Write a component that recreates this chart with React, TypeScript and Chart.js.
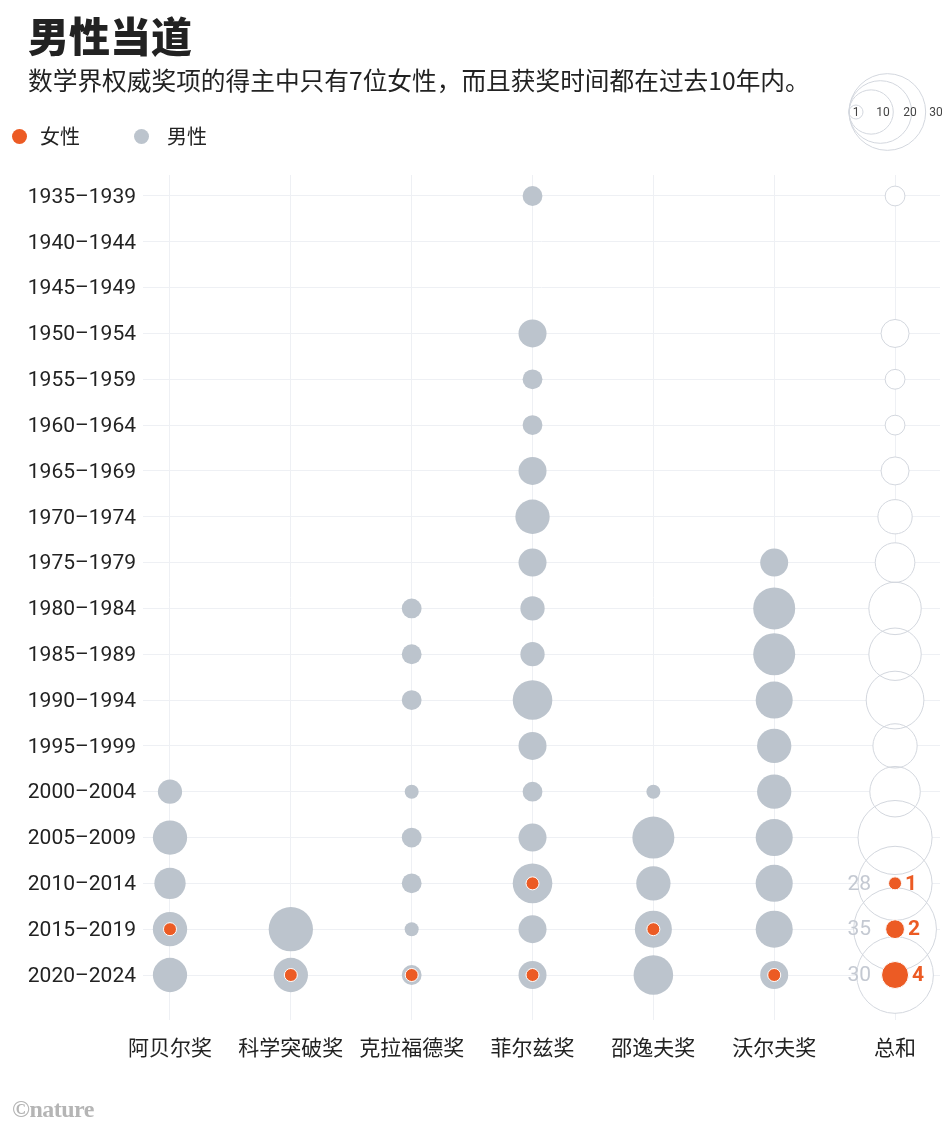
import React, { useEffect, useRef } from "react";
import { Chart, registerables } from "chart.js";

Chart.register(...registerables);

// ---------- data ----------
const periods = [
  "1935–1939", "1940–1944", "1945–1949", "1950–1954", "1955–1959", "1960–1964",
  "1965–1969", "1970–1974", "1975–1979", "1980–1984", "1985–1989", "1990–1994",
  "1995–1999", "2000–2004", "2005–2009", "2010–2014", "2015–2019", "2020–2024",
];
const prizes = ["阿贝尔奖", "科学突破奖", "克拉福德奖", "菲尔兹奖", "邵逸夫奖", "沃尔夫奖"];
const totalColumnLabel = "总和";

// all laureates per period
const abel =         [0, 0, 0, 0, 0, 0, 0, 0, 0, 0, 0, 0, 0, 3, 6, 5, 6, 6];
const breakthrough = [0, 0, 0, 0, 0, 0, 0, 0, 0, 0, 0, 0, 0, 0, 0, 0, 10, 6];
const crafoord =     [0, 0, 0, 0, 0, 0, 0, 0, 0, 2, 2, 2, 0, 1, 2, 2, 1, 2];
const fields =       [2, 0, 0, 4, 2, 2, 4, 6, 4, 3, 3, 8, 4, 2, 4, 8, 4, 4];
const shaw =         [0, 0, 0, 0, 0, 0, 0, 0, 0, 0, 0, 0, 0, 1, 9, 6, 7, 8];
const wolf =         [0, 0, 0, 0, 0, 0, 0, 0, 4, 9, 9, 7, 6, 6, 7, 7, 7, 4];

// female laureates per period
const abelF =         [0, 0, 0, 0, 0, 0, 0, 0, 0, 0, 0, 0, 0, 0, 0, 0, 1, 0];
const breakthroughF = [0, 0, 0, 0, 0, 0, 0, 0, 0, 0, 0, 0, 0, 0, 0, 0, 0, 1];
const crafoordF =     [0, 0, 0, 0, 0, 0, 0, 0, 0, 0, 0, 0, 0, 0, 0, 0, 0, 1];
const fieldsF =       [0, 0, 0, 0, 0, 0, 0, 0, 0, 0, 0, 0, 0, 0, 0, 1, 0, 1];
const shawF =         [0, 0, 0, 0, 0, 0, 0, 0, 0, 0, 0, 0, 0, 0, 0, 0, 1, 0];
const wolfF =         [0, 0, 0, 0, 0, 0, 0, 0, 0, 0, 0, 0, 0, 0, 0, 0, 0, 1];

const sizeLegendValues = [1, 10, 20, 30];

// ---------- styling ----------
const ORANGE = "#ec5b24";
const GRAY = "#bcc4cd";
const GRID = "#eef0f4";
const RING = "#d3d7de";
const K = 7;
const rad = (v: number) => (v > 0 ? K * Math.sqrt(v) : 0);

const PAGE_W = 934;
const RIGHT_PAD = 44; // room the bubble controller insists on
const AREA = { left: 135, right: 932, top: 167, bottom: 1012 };
const CANVAS_W = AREA.right + RIGHT_PAD;
const CANVAS_H = 1114;
const NUM_FONT = "Roboto, 'Noto Sans CJK SC', sans-serif";
const CJK_FONT = "'Noto Sans CJK SC', sans-serif";

const allSeries = [abel, breakthrough, crafoord, fields, shaw, wolf];
const femaleSeries = [abelF, breakthroughF, crafoordF, fieldsF, shawF, wolfF];
const columns = [...prizes, totalColumnLabel];
const totals = periods.map((_, r) => allSeries.reduce((s, a) => s + a[r], 0));
const totalsF = periods.map((_, r) => femaleSeries.reduce((s, a) => s + a[r], 0));

export default function App() {
  const ref = useRef<HTMLCanvasElement | null>(null);

  useEffect(() => {
    if (!ref.current) return;
    const grayPts: any[] = [];
    allSeries.forEach((arr, c) =>
      arr.forEach((v, r) => {
        if (v > 0) grayPts.push({ x: c, y: r, r: rad(v) });
      })
    );
    const femalePts: any[] = [];
    femaleSeries.forEach((arr, c) =>
      arr.forEach((v, r) => {
        if (v > 0) femalePts.push({ x: c, y: r, r: rad(v) - 0.5 });
      })
    );
    totalsF.forEach((v, r) => {
      if (v > 0) femalePts.push({ x: 6, y: r, r: rad(v) - 0.5 });
    });
    const totalPts: any[] = [];
    totals.forEach((v, r) => {
      if (v > 0) totalPts.push({ x: 6, y: r, r: rad(v) });
    });

    const xMin = -0.2234;
    const xMax = 6.372;

    const labelsPlugin = {
      id: "totalLabels",
      afterDatasetsDraw(chart: any) {
        const ctx = chart.ctx;
        const xs = chart.scales.x;
        const ys = chart.scales.y;
        ctx.save();
        totalsF.forEach((f, r) => {
          if (f <= 0) return;
          const x0 = xs.getPixelForValue(6);
          const y0 = ys.getPixelForValue(r);
          ctx.textBaseline = "middle";
          ctx.font = `400 21px ${NUM_FONT}`;
          ctx.fillStyle = "#c4c9d2";
          ctx.textAlign = "right";
          ctx.fillText(String(totals[r]), x0 - 24, y0 + 1);
          ctx.font = `700 21px ${NUM_FONT}`;
          ctx.fillStyle = ORANGE;
          ctx.textAlign = "left";
          ctx.fillText(String(f), x0 + rad(f) + 3, y0 + 1);
        });
        ctx.restore();
      },
      afterDraw(chart: any) {
        const ctx = chart.ctx;
        ctx.save();
        const lx = 841;
        const ly = 104;
        ctx.strokeStyle = RING;
        ctx.lineWidth = 1;
        [...sizeLegendValues].reverse().forEach((v) => {
          const r = rad(v);
          ctx.beginPath();
          ctx.arc(lx + r, ly, r, 0, Math.PI * 2);
          ctx.stroke();
        });
        const labelX = [848, 875, 902, 928];
        ctx.font = `400 12px ${NUM_FONT}`;
        ctx.fillStyle = "#444";
        ctx.textAlign = "center";
        ctx.textBaseline = "middle";
        sizeLegendValues.forEach((v, i) => ctx.fillText(String(v), labelX[i], ly + 1));
        ctx.restore();
      },
    };

    const chart = new Chart(ref.current, {
      type: "bubble",
      data: {
        datasets: [
          { label: "男性", data: grayPts, backgroundColor: GRAY, borderWidth: 0, order: 4, clip: false } as any,
          { label: "总和底", data: totalPts, backgroundColor: "#ffffff", borderWidth: 0, order: 3, clip: false } as any,
          { label: "总和", data: totalPts, backgroundColor: "rgba(0,0,0,0)", borderColor: RING, borderWidth: 1, order: 2, clip: false } as any,
          { label: "女性", data: femalePts, backgroundColor: ORANGE, borderColor: "#ffffff", borderWidth: 1, order: 1, clip: false } as any,
        ],
      },
      options: {
        animation: false,
        responsive: false,
        events: [],
        layout: { padding: { top: AREA.top, right: RIGHT_PAD, bottom: 0, left: 0 } },
        plugins: { legend: { display: false }, tooltip: { enabled: false }, title: { display: false } },
        scales: {
          x: {
            type: "linear",
            min: xMin,
            max: xMax,
            afterBuildTicks: (s: any) => {
              s.ticks = columns.map((_, i) => ({ value: i }));
            },
            afterFit: (s: any) => {
              s.height = CANVAS_H - AREA.bottom;
              s.paddingLeft = 0;
              s.paddingRight = 0;
              s.paddingTop = 0;
              s.paddingBottom = 0;
            },
            ticks: {
              autoSkip: false,
              maxRotation: 0,
              minRotation: 0,
              padding: 14,
              color: "#222",
              font: { family: CJK_FONT, size: 21 },
              callback: (v: any) => columns[Math.round(Number(v))] ?? "",
            },
            grid: { color: GRID, lineWidth: 1, drawTicks: false },
            border: { display: false },
          },
          y: {
            type: "linear",
            reverse: true,
            min: -0.458,
            max: 17.982,
            afterBuildTicks: (s: any) => {
              s.ticks = periods.map((_, i) => ({ value: i }));
            },
            afterFit: (s: any) => {
              s.width = AREA.left;
              s.paddingTop = 0;
              s.paddingBottom = 0;
            },
            ticks: {
              autoSkip: false,
              padding: 7,
              labelOffset: 1.5,
              color: "#222",
              font: { family: NUM_FONT, size: 21 },
              callback: (v: any) => periods[Math.round(Number(v))] ?? "",
            },
            grid: { color: GRID, lineWidth: 1, drawTicks: false },
            border: { display: false },
          },
        },
      } as any,
      plugins: [labelsPlugin],
    });
    return () => chart.destroy();
  }, []);

  return (
    <div
      style={{
        position: "relative",
        width: PAGE_W,
        height: CANVAS_H,
        overflow: "hidden",
        fontFamily: CJK_FONT,
        color: "#222",
      }}
    >
      <canvas
        ref={ref}
        width={CANVAS_W}
        height={CANVAS_H}
        style={{ position: "absolute", left: 0, top: 0, width: CANVAS_W, height: CANVAS_H }}
      />
      <div style={{ position: "absolute", left: 20, top: 6, fontSize: 41, lineHeight: "41px", fontWeight: 900, whiteSpace: "nowrap" }}>
        男性当道
      </div>
      <div style={{ position: "absolute", left: 20, top: 59, fontSize: 24.7, lineHeight: "25px", whiteSpace: "nowrap" }}>
        数学界权威奖项的得主中只有7位女性，而且获奖时间都在过去10年内。
      </div>
      <div style={{ position: "absolute", left: 4, top: 121, width: 15, height: 15, borderRadius: "50%", background: ORANGE }} />
      <div style={{ position: "absolute", left: 32, top: 118, fontSize: 20, lineHeight: "20px" }}>女性</div>
      <div style={{ position: "absolute", left: 126, top: 121, width: 15, height: 15, borderRadius: "50%", background: GRAY }} />
      <div style={{ position: "absolute", left: 159, top: 118, fontSize: 20, lineHeight: "20px" }}>男性</div>
      <div
        style={{
          position: "absolute",
          left: 4,
          top: 1089,
          fontSize: 24,
          lineHeight: "24px",
          fontFamily: "'Liberation Serif', serif",
          fontWeight: 700,
          color: "#b5b5b5",
          letterSpacing: -0.5,
        }}
      >
        ©nature
      </div>
    </div>
  );
}
